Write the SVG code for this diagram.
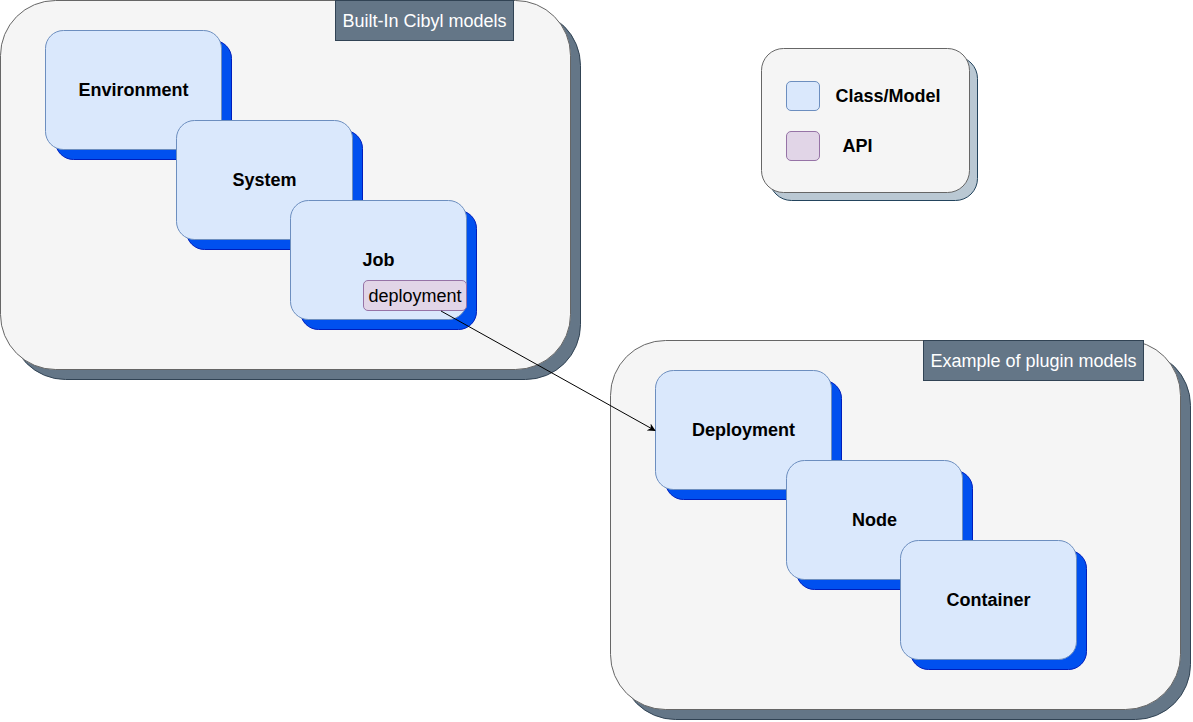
<svg xmlns="http://www.w3.org/2000/svg" width="1193" height="722" viewBox="0 0 1193 722">
<defs>
<marker id="arr" viewBox="0 0 10 10" refX="9" refY="5" markerWidth="8" markerHeight="8" orient="auto" markerUnits="userSpaceOnUse"><path d="M0,0 L10,5 L0,10 L3,5 z" fill="#000"/></marker>
</defs>
<style>
.cont{fill:#f5f5f5;stroke:#666666;stroke-width:1}
.contsh{fill:#647687;stroke:#314354;stroke-width:1}
.lab{fill:#647687;stroke:#314354;stroke-width:1}
.labt{fill:#ffffff;font-family:"Liberation Sans",Arial,sans-serif;font-size:18px}
.cls{fill:#dae8fc;stroke:#6c8ebf;stroke-width:1}
.clssh{fill:#0050ef;stroke:#001dbc;stroke-width:1}
.api{fill:#e1d5e7;stroke:#9673a6;stroke-width:1}
.bt{font-family:"Liberation Sans",Arial,sans-serif;font-size:18px;font-weight:bold;fill:#000;text-anchor:middle;dominant-baseline:central}
.rt{font-family:"Liberation Sans",Arial,sans-serif;font-size:18px;fill:#000;text-anchor:middle;dominant-baseline:central}
.leg{fill:#f5f5f5;stroke:#666666;stroke-width:1}
.legsh{fill:#bac8d3;stroke:#23445d;stroke-width:1}
</style>
<g id="builtin">
<rect class="contsh" x="10.5" y="10.5" width="570" height="369" rx="55"/>
<rect class="cont" x="0.5" y="0.5" width="570" height="369" rx="55"/>
</g>
<g id="builtin-label">
<rect class="lab" x="335.5" y="0.5" width="178" height="40"/>
<text class="labt" x="424.5" y="20.5" text-anchor="middle" dominant-baseline="central">Built-In Cibyl models</text>
</g>
<g id="plugin">
<rect class="contsh" x="620.5" y="350.5" width="570" height="369" rx="55"/>
<rect class="cont" x="610.5" y="340.5" width="570" height="369" rx="55"/>
</g>
<g id="plugin-label">
<rect class="lab" x="923.5" y="340.5" width="220" height="40"/>
<text class="labt" x="1033.5" y="360.5" text-anchor="middle" dominant-baseline="central">Example of plugin models</text>
</g>
<g id="legend">
<rect class="legsh" x="769.5" y="56.5" width="208" height="144" rx="22"/>
<rect class="leg" x="761.5" y="48.5" width="208" height="144" rx="22"/>
<rect class="cls" x="786.5" y="81.5" width="33" height="29" rx="4.5"/>
<text class="bt" x="888" y="96">Class/Model</text>
<rect class="api" x="786.5" y="131.5" width="33" height="29" rx="4.5"/>
<text class="bt" x="857.5" y="146">API</text>
</g>
<g id="environment">
<rect class="clssh" x="55.5" y="40.5" width="176" height="119" rx="18"/>
<rect class="cls" x="45.5" y="30.5" width="176" height="119" rx="18"/>
<text class="bt" x="133.5" y="90">Environment</text>
</g>
<g id="system">
<rect class="clssh" x="186.5" y="130.5" width="176" height="119" rx="18"/>
<rect class="cls" x="176.5" y="120.5" width="176" height="119" rx="18"/>
<text class="bt" x="264.5" y="180">System</text>
</g>
<g id="job">
<rect class="clssh" x="300.5" y="210.5" width="176" height="119" rx="18"/>
<rect class="cls" x="290.5" y="200.5" width="176" height="119" rx="18"/>
<text class="bt" x="378.5" y="260">Job</text>
</g>
<g id="deployment-api">
<rect class="api" x="363.5" y="280.5" width="103" height="30" rx="4.5"/>
<text class="rt" x="415" y="295.5">deployment</text>
</g>
<g id="deployment">
<rect class="clssh" x="665.5" y="380.5" width="176" height="119" rx="18"/>
<rect class="cls" x="655.5" y="370.5" width="176" height="119" rx="18"/>
<text class="bt" x="743.5" y="430">Deployment</text>
</g>
<g id="node">
<rect class="clssh" x="796.5" y="470.5" width="176" height="119" rx="18"/>
<rect class="cls" x="786.5" y="460.5" width="176" height="119" rx="18"/>
<text class="bt" x="874.5" y="520">Node</text>
</g>
<g id="container">
<rect class="clssh" x="910.5" y="550.5" width="176" height="119" rx="18"/>
<rect class="cls" x="900.5" y="540.5" width="176" height="119" rx="18"/>
<text class="bt" x="988.5" y="600">Container</text>
</g>
<g id="connectors">
<line x1="441" y1="311" x2="655" y2="430.5" stroke="#000" stroke-width="1" marker-end="url(#arr)"/>
</g>
</svg>
